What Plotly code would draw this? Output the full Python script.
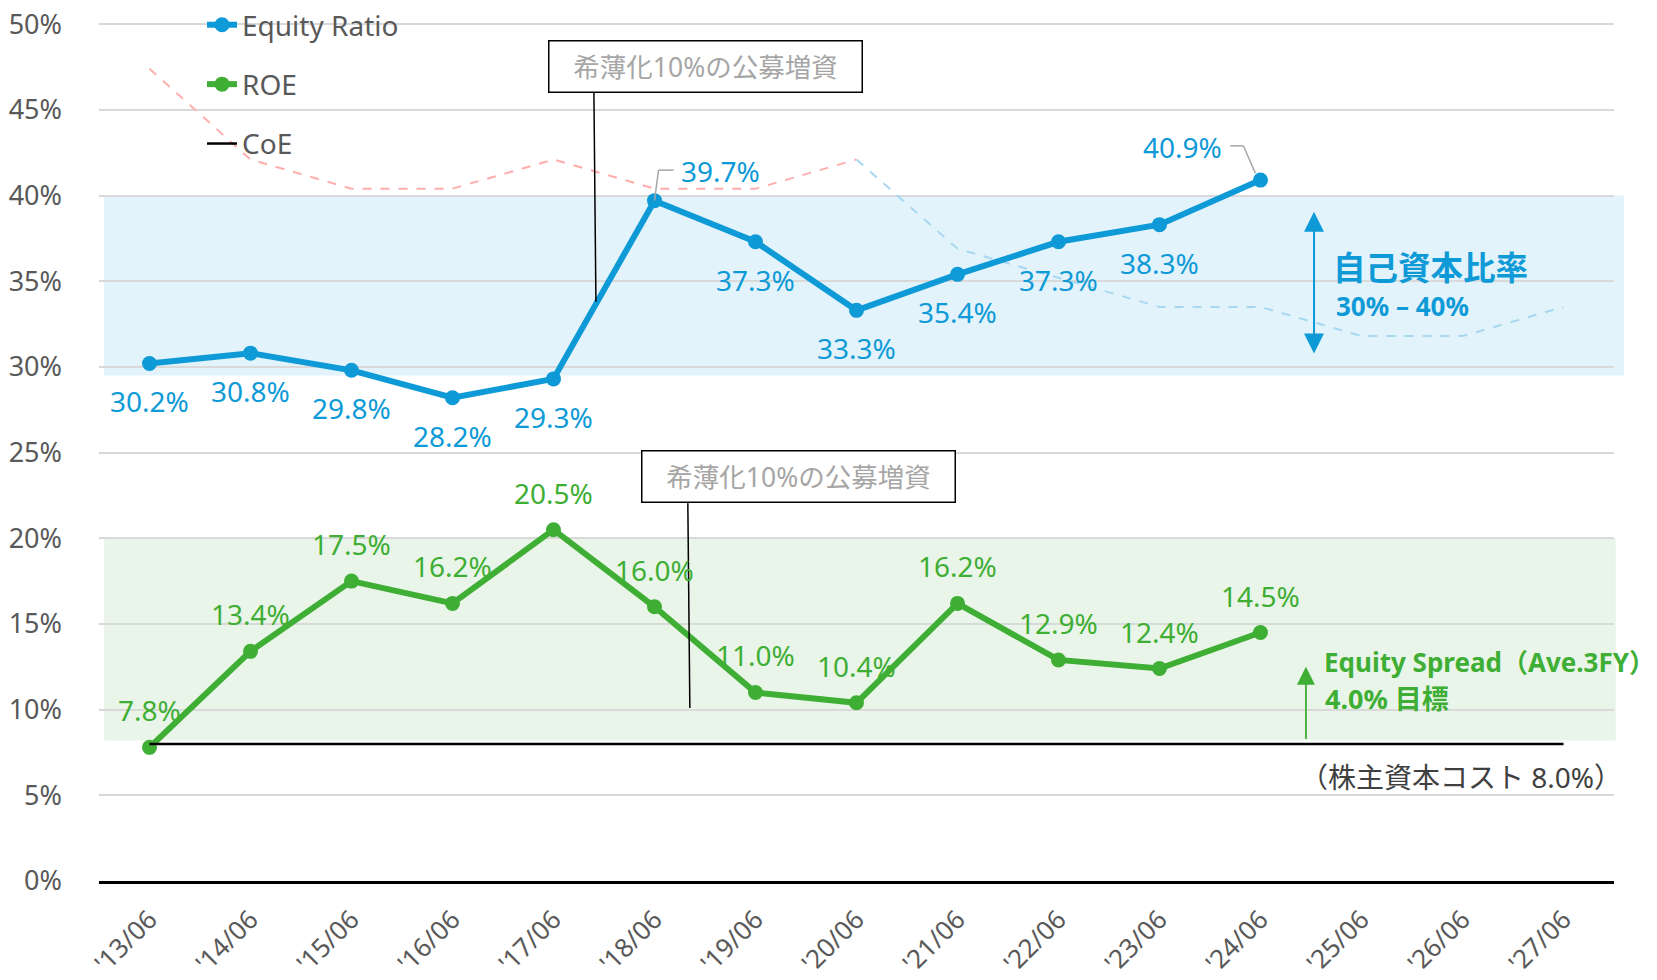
import plotly.graph_objects as go

# data
periods = ["'13/06", "'14/06", "'15/06", "'16/06", "'17/06", "'18/06", "'19/06", "'20/06",
           "'21/06", "'22/06", "'23/06", "'24/06", "'25/06", "'26/06", "'27/06"]
equity_ratio = [30.2, 30.8, 29.8, 28.2, 29.3, 39.7, 37.3, 33.3, 35.4, 37.3, 38.3, 40.9]
roe = [7.8, 13.4, 17.5, 16.2, 20.5, 16.0, 11.0, 10.4, 16.2, 12.9, 12.4, 14.5]
coe = [8.0, 8.0, 8.0, 8.0, 8.0, 8.0, 8.0, 8.0, 8.0, 8.0, 8.0, 8.0, 8.0, 8.0, 8.0]
ghost_past = [47.4, 42.1, 40.4, 40.4, 42.1, 40.4, 40.4, 42.1]
ghost_future = [42.1, 36.9, 35.2, 33.5, 33.5, 31.8, 31.8, 33.5]
ratio_target = [30, 40]
roe_band = [8.2, 20]

BLUE = '#0E9AD7'
GREEN = '#3EAE34'
GREY_TXT = '#595959'
FONT = 'Noto Sans, Noto Sans CJK JP'

fig = go.Figure()

# faint reference lines
fig.add_trace(go.Scatter(
    x=periods[:8], y=ghost_past, mode='lines', showlegend=False, hoverinfo='skip',
    line=dict(color='#FFADAD', width=2, dash='dash')
))
fig.add_trace(go.Scatter(
    x=periods[7:], y=ghost_future, mode='lines', showlegend=False, hoverinfo='skip',
    line=dict(color='#A8D8F0', width=2, dash='dash')
))

fig.add_trace(go.Scatter(
    x=periods[:len(equity_ratio)], y=equity_ratio, mode='lines+markers', name='Equity Ratio',
    legendgroup='er', line=dict(color=BLUE, width=6), marker=dict(size=15, color=BLUE)
))
fig.add_trace(go.Scatter(
    x=periods[:len(roe)], y=roe, mode='lines+markers', name='ROE',
    legendgroup='roe', line=dict(color=GREEN, width=6), marker=dict(size=15, color=GREEN)
))
fig.add_trace(go.Scatter(
    x=periods, y=coe, mode='lines', name='CoE',
    legendgroup='coe', line=dict(color='black', width=2.5)
))

# target bands
fig.add_shape(type='rect', xref='paper', yref='y', x0=0.0034, x1=1.0066, y0=29.5, y1=ratio_target[1],
              fillcolor='#E3F3FB', line_width=0, layer='below')
fig.add_shape(type='rect', xref='paper', yref='y', x0=0.0034, x1=1.0012, y0=roe_band[0], y1=roe_band[1],
              fillcolor='#EAF5E9', line_width=0, layer='below')

annotations = []

# equity ratio labels (below the points, except two with leader lines)
for i, v in enumerate(equity_ratio):
    xs, ys = 0, -38
    if i == 5:
        xs, ys = 66, 30
    elif i == 11:
        xs, ys = -78, 33
    annotations.append(dict(x=i, y=v, text=f'{v:.1f}%', showarrow=False, xshift=xs, yshift=ys,
                            font=dict(size=28, color=BLUE, family=FONT)))

for i, v in enumerate(roe):
    annotations.append(dict(x=i, y=v, text=f'{v:.1f}%', showarrow=False, yshift=37,
                            font=dict(size=28, color=GREEN, family=FONT)))

# leader lines for the two labels
for x0, y0, x1, y1 in [(5, 39.7, 5.04, 41.48), (5.04, 41.48, 5.19, 41.48),
                       (10.70, 42.9, 10.83, 42.9), (10.83, 42.9, 10.95, 41.3)]:
    fig.add_shape(type='line', xref='x', yref='y', x0=x0, y0=y0, x1=x1, y1=y1,
                  line=dict(color='#A6A6A6', width=1.5))

# equity offering call-outs
for bx, by, lx, ly0, ly1 in [(5.50, 47.5, 4.40, 46.0, 33.8), (6.43, 23.6, 5.33, 22.05, 10.1)]:
    fig.add_shape(type='line', xref='x', yref='y', x0=lx, y0=ly0, x1=lx + 0.02, y1=ly1,
                  line=dict(color='black', width=1.5))
    annotations.append(dict(x=bx, y=by, text='希薄化10%の公募増資', showarrow=False,
                            width=308, height=46, borderpad=2, bordercolor='black', borderwidth=1.5,
                            bgcolor='white', font=dict(size=26.5, color='#A6A6A6', family=FONT)))

# target arrows and texts
annotations.append(dict(x=11.53, y=39.05, ax=11.53, ay=30.7, axref='x', ayref='y', text='',
                        showarrow=True, arrowside='end+start', arrowhead=2, arrowsize=2,
                        arrowwidth=2, arrowcolor=BLUE))
annotations.append(dict(x=11.45, y=12.5, ax=11.45, ay=8.2, axref='x', ayref='y', text='',
                        showarrow=True, arrowhead=2, arrowsize=2, arrowwidth=1.8, arrowcolor=GREEN))

side_texts = [
    (11.70, 35.82, '<b>自己資本比率</b>', BLUE, 32.5),
    (11.73, 33.55, '<b>30% – 40%</b>', BLUE, 26),
    (11.61, 12.79, '<b>Equity Spread（Ave.3FY）</b>', GREEN, 26),
    (11.62, 10.66, '<b>4.0% 目標</b>', GREEN, 27),
    (11.37, 6.09, '（株主資本コスト 8.0%）', '#404040', 28),
]
for x, y, t, c, s in side_texts:
    annotations.append(dict(x=x, y=y, text=t, showarrow=False, xanchor='left',
                            font=dict(size=s, color=c, family=FONT)))

fig.update_layout(
    width=1657, height=980,
    margin=dict(l=91, r=51, t=11, b=107, autoexpand=False),
    plot_bgcolor='white', paper_bgcolor='white',
    font=dict(family=FONT, size=25, color=GREY_TXT),
    showlegend=True,
    legend=dict(x=0.068, y=1.022, xanchor='left', yanchor='top', bgcolor='rgba(0,0,0,0)',
                font=dict(size=28, color=GREY_TXT), tracegroupgap=20),
    annotations=annotations,
    xaxis=dict(type='category', range=[-0.5, 14.5], showgrid=False, tickangle=-45,
               showline=True, linecolor='black', linewidth=2.5, ticks='', automargin=False,
               ticklabelstandoff=10, ticklabeloverflow='allow',
               tickfont=dict(size=26, color=GREY_TXT)),
    yaxis=dict(range=[0, 50.3], dtick=5, ticksuffix='%', showgrid=True, gridcolor='#D9D9D9',
               gridwidth=1.5, zeroline=False, ticks='', ticklabelstandoff=36, automargin=False,
               ticklabeloverflow='allow', tickfont=dict(size=27, color=GREY_TXT)),
)

fig.write_html("out.html")
